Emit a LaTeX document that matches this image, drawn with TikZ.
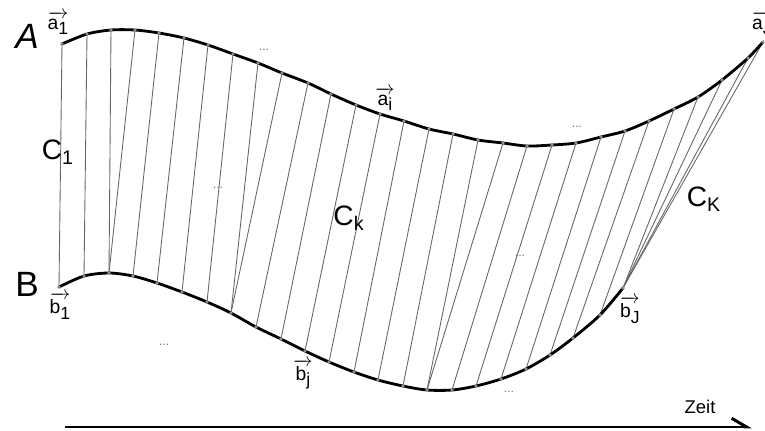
\documentclass[tikz,border=0pt]{standalone}
\usepackage{amsmath}
\usepackage{fontspec}
\setmainfont{Liberation Sans}
\usetikzlibrary{arrows.meta}
% vector label: #1 = letter, #2 = index
\newcommand{\vlab}[2]{$\overrightarrow{\mbox{#1\raisebox{-0.5ex}{\fontsize{10}{10}\selectfont #2}}}$}
\begin{document}
\begin{tikzpicture}[x=0.02cm, y=-0.02cm,
    series/.style={line width=1.6pt, line cap=round, line join=round},
    match/.style={line width=0.5pt, black!60},
    sample/.style={fill=black!45},
    big/.style={font=\fontsize{20}{20}\selectfont},
    corr/.style={font=\fontsize{16}{16}\selectfont},
    vec/.style={font=\fontsize{11}{11}\selectfont, inner sep=0pt},
    gap/.style={font=\fontsize{7}{7}\selectfont, text=black!55},
    axis/.style={line width=1.7pt, -{Straight Barb[left, length=8.5pt, width=10pt]}}]
  \useasboundingbox (0,0) rectangle (765,430);
  % sample points of the upper series A and of the lower series B (pixels)
  \foreach \x/\y [count=\i] in {62/44, 87/34, 111/30, 135/30, 159/33, 184/38, 208/45,
      233/54, 258/63, 282/73, 308/83, 331/94, 356/105, 380/114, 404/121, 429/129,
      453/134, 478/140, 503/143, 527/146, 552/145, 576/143, 601/137, 625/131,
      649/121, 674/109, 698/97, 722/80, 748/58, 763/42}
    \coordinate (a\i) at (\x,\y);
  \foreach \x/\y [count=\j] in {59/287, 84/276, 109/273, 133/276, 157/283, 182/292,
      207/302, 231/313, 256/327, 281/339, 305/351, 329/362, 354/372, 378/380,
      403/386, 427/390, 452/390, 476/386, 501/379, 526/369, 550/355, 573/338,
      600/315, 623/288}
    \coordinate (b\j) at (\x,\y);

  % warping path: a_i -- b_j
  \foreach \i/\j in {1/1, 2/2, 3/3, 4/3, 5/4, 6/5, 7/6, 8/7, 9/8, 10/8, 11/9,
      12/10, 13/11, 14/12, 15/13, 16/14, 17/15, 18/16, 19/16, 20/17, 21/18,
      22/19, 23/20, 24/21, 25/22, 26/23, 27/24, 28/24, 29/24, 30/24}
    \draw[match] (a\i) -- (b\j);

  \draw[series] plot[smooth] coordinates {(a1) (a2) (a3) (a4) (a5) (a6) (a7) (a8)
    (a9) (a10) (a11) (a12) (a13) (a14) (a15) (a16) (a17) (a18) (a19) (a20) (a21)
    (a22) (a23) (a24) (a25) (a26) (a27) (a28) (a29) (a30)};
  \draw[series] plot[smooth] coordinates {(b1) (b2) (b3) (b4) (b5) (b6) (b7) (b8)
    (b9) (b10) (b11) (b12) (b13) (b14) (b15) (b16) (b17) (b18) (b19) (b20) (b21)
    (b22) (b23) (b24)};
  \foreach \i in {1,...,30} \fill[sample] (a\i) circle[radius=1.1pt];
  \foreach \j in {1,...,24} \fill[sample] (b\j) circle[radius=1.1pt];

  % labels
  \node[big] (lA) at (27,36) {\textit{A}};
  \node[big] (lB) at (27,284) {B};
  \node[vec] (va1) at (58,23) {\vlab{a}{1}};
  \node[vec] (vai) at (385,99) {\vlab{a}{i}};
  \node[vec] (vaJ) at (762,23) {\vlab{a}{J}};
  \node[vec] (vb1) at (60,306) {\vlab{b}{1}};
  \node[vec] (vbj) at (303,374) {\vlab{b}{j}};
  \node[vec] (vbJ) at (630,310) {\vlab{b}{J}};
  \node[corr] (c1) at (58,152) {C$_{\text{1}}$};
  \node[corr] (ck) at (349,218) {C$_{\text{k}}$};
  \node[corr] (cK) at (704,199) {C$_{\text{K}}$};
  \foreach \x/\y [count=\n] in {264/50, 218/188, 164/345, 520/256, 577/127, 509/392}
    \node[gap] (dots\n) at (\x,\y) {...};

  % time axis
  \coordinate (t0) at (65,427);
  \coordinate (t1) at (752,427);
  \draw[axis] (t0) -- (t1);
  \node[font=\fontsize{10.5}{10.5}\selectfont] (zeit) at (700,407) {Zeit};
\end{tikzpicture}
\end{document}
